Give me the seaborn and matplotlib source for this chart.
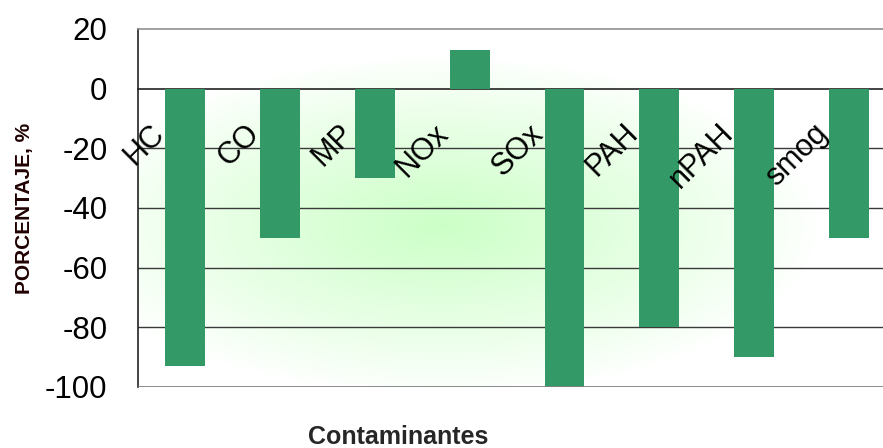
import numpy as np
import pandas as pd
import matplotlib
matplotlib.use('Agg')
import matplotlib.pyplot as plt
import seaborn as sns

# datos
contaminantes = ['HC', 'CO', 'MP', 'NOx', 'SOx', 'PAH', 'nPAH', 'smog']
porcentajes = [-93, -50, -30, 13, -100, -80, -90, -50]
marcas_y = [20, 0, -20, -40, -60, -80, -100]

sns.set_style('white')
plt.rcParams['font.family'] = ['Liberation Sans', 'DejaVu Sans']

df = pd.DataFrame({'Contaminante': contaminantes, 'Porcentaje': porcentajes})

fig = plt.figure(figsize=(8.83, 4.48), dpi=100)
# el area del grafico se sale por la derecha, como en la imagen original
ax = fig.add_axes([0.1563, 0.1362, 0.8585, 0.7991])

# fondo degradado verde claro
gx, gy = np.meshgrid(np.linspace(-1, 1, 300), np.linspace(-1, 1, 200))
dist = np.sqrt(((gx + 0.2) / 1.0) ** 2 + ((gy + 0.1) / 0.95) ** 2)
mezcla = np.clip(1 - dist, 0, 1) ** 0.9
fondo = np.ones((200, 300, 3))
fondo[..., 0] = 1 - 0.2 * mezcla
fondo[..., 2] = 1 - 0.22 * mezcla
ax.imshow(fondo, extent=(-0.5, len(contaminantes) - 0.5, -100, 20),
          aspect='auto', zorder=0, origin='lower')

sns.barplot(data=df, x='Contaminante', y='Porcentaje', color='#339966',
            saturation=1, width=0.42, linewidth=0, ax=ax, zorder=3)

ax.set_xlim(-0.5, len(contaminantes) - 0.5)
ax.set_ylim(-100, 20)
ax.set_yticks(marcas_y)
ax.set_yticklabels([str(v) for v in marcas_y], fontsize=22.5)
ax.tick_params(axis='y', direction='out', length=8, width=1, pad=14, colors='#222222')
ax.tick_params(axis='y', labelcolor='black')

# lineas de division horizontales
for v in marcas_y[2:-1]:
    ax.axhline(v, color='#3a3a3a', lw=1, zorder=1)

# eje de categorias en y = 0
ax.spines['bottom'].set_position(('data', 0))
ax.spines['bottom'].set_color('#222222')
ax.spines['bottom'].set_linewidth(1.2)
ax.spines['bottom'].set_zorder(2)
ax.set_xticks(np.arange(0.5, len(contaminantes) - 0.5, 1))
ax.set_xticklabels([])
ax.tick_params(axis='x', direction='out', length=8, width=1, colors='#222222')
ax.axhline(-100, color='#808080', lw=2, zorder=4)

ax.spines['top'].set_color('#909090')
ax.spines['top'].set_linewidth(1.2)
ax.spines['right'].set_visible(False)
ax.spines['left'].set_color('#222222')
ax.spines['left'].set_linewidth(1.2)

# etiquetas de categoria giradas
for i, nombre in enumerate(contaminantes):
    ax.text(i - 0.38, -10, nombre, rotation=45, rotation_mode='anchor',
            ha='right', va='top', fontsize=22, color='black', zorder=5)

ax.set_xlabel('')
ax.set_ylabel('PORCENTAJE, %', fontsize=15, fontweight='bold', color='#200000', labelpad=8)
fig.text(0.451, 0.025, 'Contaminantes', ha='center', va='center',
         fontsize=18, fontweight='bold')

fig.savefig('out.png', dpi=100)
